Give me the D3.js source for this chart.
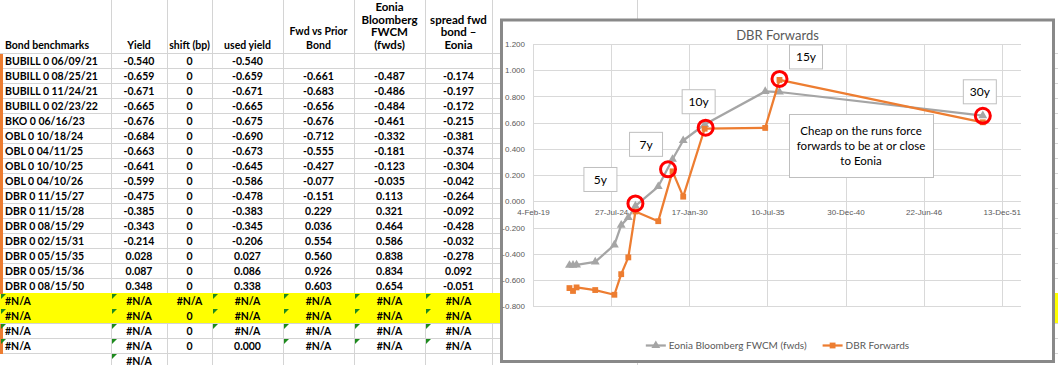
<!DOCTYPE html>
<html>
<head>
<meta charset="utf-8">
<script src="https://cdn.jsdelivr.net/npm/d3@7"></script>
<style>
    body { margin: 0; background: #fff; }
    svg { display: block; font-family: Lato, "Open Sans", sans-serif; }
</style>
</head>
<body>
<div id="mainDiv"></div>
<script>
// ---- dados da planilha ----
const headers = [
    ["Bond benchmarks"], ["Yield"], ["shift (bp)"], ["used yield"],
    ["Fwd vs Prior", "Bond"], ["Eonia", "Bloomberg", "FWCM", "(fwds)"], ["spread fwd", "bond \u2013", "Eonia"]
];
const bonds = [
    "BUBILL 0 06/09/21", "BUBILL 0 08/25/21", "BUBILL 0 11/24/21", "BUBILL 0 02/23/22",
    "BKO 0 06/16/23", "OBL 0 10/18/24", "OBL 0 04/11/25", "OBL 0 10/10/25", "OBL 0 04/10/26",
    "DBR 0 11/15/27", "DBR 0 11/15/28", "DBR 0 08/15/29", "DBR 0 02/15/31",
    "DBR 0 05/15/35", "DBR 0 05/15/36", "DBR 0 08/15/50"
];
const yields = [-0.540, -0.659, -0.671, -0.665, -0.676, -0.684, -0.663, -0.641, -0.599,
    -0.475, -0.385, -0.343, -0.214, 0.028, 0.087, 0.348];
const shiftsBp = [0, 0, 0, 0, 0, 0, 0, 0, 0, 0, 0, 0, 0, 0, 0, 0];
const usedYields = [-0.540, -0.659, -0.671, -0.665, -0.675, -0.690, -0.673, -0.645, -0.586,
    -0.478, -0.383, -0.345, -0.206, 0.027, 0.086, 0.338];
const fwdVsPrior = [null, -0.661, -0.683, -0.656, -0.676, -0.712, -0.555, -0.427, -0.077,
    -0.151, 0.229, 0.036, 0.554, 0.560, 0.926, 0.603];
const eoniaFwds = [null, -0.487, -0.486, -0.484, -0.461, -0.332, -0.181, -0.123, -0.035,
    0.113, 0.321, 0.464, 0.586, 0.838, 0.834, 0.654];
const spreadFwdEonia = [null, -0.174, -0.197, -0.172, -0.215, -0.381, -0.374, -0.304, -0.042,
    -0.264, -0.092, -0.428, -0.032, -0.278, 0.092, -0.051];
const naRows = [
    ["#N/A", "#N/A", "#N/A", "#N/A", "#N/A", "#N/A", "#N/A"],
    ["#N/A", "#N/A", "0", "#N/A", "#N/A", "#N/A", "#N/A"],
    ["#N/A", "#N/A", "0", "#N/A", "#N/A", "#N/A", "#N/A"],
    ["#N/A", "#N/A", "0", "0.000", "#N/A", "#N/A", "#N/A"],
    ["", "#N/A", "", "", "", "", ""]
];

// ---- dados do grafico ----
const chartTitle = "DBR Forwards";
const seriesNames = ["Eonia Bloomberg FWCM (fwds)", "DBR Forwards"];
const xAxisStart = "2019-02-04";
const xAxisMajorDays = 2000;
const xAxisSpanDays = 12500;
const yTickValues = [-0.8, -0.6, -0.4, -0.2, 0, 0.2, 0.4, 0.6, 0.8, 1.0, 1.2];
const tenorLabels = ["5y", "7y", "10y", "15y", "30y"];
const tenorBondIndex = [8, 10, 12, 14, 15];
const noteLines = ["Cheap on the runs force", "forwards to be at or close", "to Eonia"];

var myApp = {};

myApp.width = 1058;
myApp.height = 365;
myApp.sheet = {top: 53.3, rowH: 15, cols: [0, 111, 167, 212, 283, 354, 425, 492, 637]};
myApp.chart = {left: 501.5, top: 20, right: 1053.5, bottom: 361.5};
myApp.plot = {left: 533, right: 1021.3, top: 44, bottom: 306.3};
myApp.xScale = undefined;
myApp.yScale = undefined;

// formato do Excel usa hifen, nao o sinal de menos do d3
myApp.fmt = d3.formatLocale({decimal: ".", thousands: ",", grouping: [3], currency: ["$", ""], minus: "-"}).format(".3f");

myApp.appendSvg = function (div) {
    return d3.select(div).append('svg')
        .attr('width', myApp.width)
        .attr('height', myApp.height);
}

myApp.buildRows = function () {
    let f = function (v) { return v === null ? "" : myApp.fmt(v); };
    let rows = bonds.map(function (b, i) {
        return [b, f(yields[i]), String(shiftsBp[i]), f(usedYields[i]), f(fwdVsPrior[i]), f(eoniaFwds[i]), f(spreadFwdEonia[i])];
    });
    return rows.concat(naRows);
}

myApp.drawSheet = function (svg) {
    let s = myApp.sheet;
    let cols = s.cols;
    let rows = myApp.buildRows();
    let rowY = function (i) { return Math.round(s.top + i * s.rowH); };

    //linhas de grade
    let grid = svg.append('g').attr('class', 'sheet-grid')
        .attr('stroke', '#d4d4d4').attr('stroke-width', 1);
    grid.selectAll('.v').data(cols.slice(1)).enter().append('line').attr('class', 'v')
        .attr('x1', d => d + 0.5).attr('x2', d => d + 0.5)
        .attr('y1', 0).attr('y2', myApp.height);
    grid.selectAll('.h').data(d3.range(rows.length + 1)).enter().append('line').attr('class', 'h')
        .attr('x1', 0).attr('x2', myApp.width)
        .attr('y1', d => rowY(d) + 0.5).attr('y2', d => rowY(d) + 0.5);

    // linhas amarelas
    svg.append('g').selectAll('rect').data([16, 17]).enter().append('rect')
        .attr('x', 0).attr('y', d => rowY(d))
        .attr('width', myApp.width).attr('height', s.rowH)
        .attr('fill', '#ffff00');

    // marca laranja na esquerda
    let marked = d3.range(0, 16).concat([18, 19]);
    svg.append('g').selectAll('rect').data(marked).enter().append('rect')
        .attr('x', 0).attr('y', d => rowY(d) + 1)
        .attr('width', 3).attr('height', s.rowH)
        .attr('fill', '#ed7d31');

    // cabecalho
    let head = svg.append('g').attr('class', 'header').attr('font-weight', 'bold').attr('fill', '#000');
    headers.forEach(function (lines, j) {
        let big = j >= 5;
        let lh = big ? 12.5 : 14;
        let cx = j === 0 ? cols[0] + 5 : (cols[j] + cols[j + 1]) / 2;
        head.selectAll(null).data(lines).enter().append('text')
            .attr('x', cx)
            .attr('y', (d, k) => 48.8 - (lines.length - 1 - k) * lh)
            .attr('text-anchor', j === 0 ? 'start' : 'middle')
            .attr('font-size', big ? 11.5 : 10.5)
            .text(d => d);
    });

    // celulas
    let body = svg.append('g').attr('class', 'cells').attr('font-weight', 'bold')
        .attr('font-size', 10.5).attr('fill', '#000');
    rows.forEach(function (r, i) {
        let y = rowY(i);
        r.forEach(function (v, j) {
            if (v === "") return;
            body.append('text')
                .attr('x', j === 0 ? cols[0] + 5 : (cols[j] + cols[j + 1]) / 2)
                .attr('y', y + 11.5)
                .attr('text-anchor', j === 0 ? 'start' : 'middle')
                .text(v);
            // triangulo verde de erro
            if (i >= 16 && v === "#N/A" && j !== 2) {
                body.append('path')
                    .attr('d', 'M' + (cols[j] + 1) + ',' + (y + 1) + 'h5l-5,5z')
                    .attr('fill', '#1e8a1e');
            }
        });
    });
}

myApp.drawChart = function (svg) {
    let c = myApp.chart, p = myApp.plot;
    let g = svg.append('g').attr('class', 'chart');

    g.append('rect')
        .attr('x', c.left).attr('y', c.top)
        .attr('width', c.right - c.left).attr('height', c.bottom - c.top)
        .attr('fill', '#fff').attr('stroke', '#898989').attr('stroke-width', 3);

    g.append('text')
        .attr('x', (c.left + c.right) / 2).attr('y', 40)
        .attr('text-anchor', 'middle').attr('font-size', 13).attr('fill', '#595959')
        .text(chartTitle);

    let parse = d3.utcParse('%Y-%m-%d');
    let start = parse(xAxisStart);
    myApp.xScale = d3.scaleUtc()
        .domain([start, d3.utcDay.offset(start, xAxisSpanDays)])
        .range([p.left, p.right]);
    myApp.yScale = d3.scaleLinear()
        .domain([yTickValues[0], yTickValues[yTickValues.length - 1]])
        .range([p.bottom, p.top]);
    let xTicks = d3.range(0, xAxisSpanDays, xAxisMajorDays).map(d => d3.utcDay.offset(start, d));

    // grade horizontal + rotulos y
    let yAxisGroup = g.append('g').attr('class', 'yAxis')
        .attr('transform', 'translate(' + p.left + ',0)')
        .call(d3.axisLeft(myApp.yScale).tickValues(yTickValues)
            .tickFormat(myApp.fmt).tickSize(-(p.right - p.left)).tickPadding(8));
    // grade vertical
    let xGridGroup = g.append('g').attr('class', 'xGrid')
        .attr('transform', 'translate(0,' + p.bottom + ')')
        .call(d3.axisBottom(myApp.xScale).tickValues(xTicks).tickFormat('').tickSize(-(p.bottom - p.top)));
    // rotulos x sobre o zero
    let xAxisGroup = g.append('g').attr('class', 'xAxis')
        .attr('transform', 'translate(0,' + myApp.yScale(0) + ')')
        .call(d3.axisBottom(myApp.xScale).tickValues(xTicks)
            .tickFormat(d3.utcFormat('%-d-%b-%y')).tickSize(0).tickPadding(8));

    [yAxisGroup, xGridGroup, xAxisGroup].forEach(function (a) {
        a.select('.domain').remove();
        a.selectAll('line').attr('stroke', '#d9d9d9').attr('shape-rendering', 'crispEdges');
        a.selectAll('text').attr('fill', '#595959').attr('font-size', 8).attr('font-family', null);
    });

    // series
    let maturity = bonds.map(b => d3.utcParse('%m/%d/%y')(b.split(' ').pop()));
    let series = [
        {name: seriesNames[0], values: eoniaFwds, color: '#a5a5a5', symbol: d3.symbolTriangle, size: 34},
        {name: seriesNames[1], values: fwdVsPrior, color: '#ed7d31', symbol: d3.symbolSquare, size: 34}
    ];
    series.forEach(function (s) {
        let pts = s.values.map((v, i) => ({date: maturity[i], v: v})).filter(d => d.v !== null);
        let line = d3.line()
            .x(d => myApp.xScale(d.date))
            .y(d => myApp.yScale(d.v));
        g.append('path').datum(pts)
            .attr('d', line)
            .attr('fill', 'none').attr('stroke', s.color).attr('stroke-width', 2.25)
            .attr('stroke-linejoin', 'round');
        g.append('g').selectAll('path').data(pts).enter().append('path')
            .attr('d', d3.symbol().type(s.symbol).size(s.size))
            .attr('transform', d => 'translate(' + myApp.xScale(d.date) + ',' + myApp.yScale(d.v) + ')')
            .attr('fill', s.color);
    });

    // circulos vermelhos e caixas dos prazos
    let callout = [
        {cx: 0, cy: -8, bx: -35, by: -24},
        {cx: -4.5, cy: -2, bx: -22, by: -25},
        {cx: 1, cy: -1, bx: -7, by: -26},
        {cx: 0, cy: -1, bx: 26.5, by: -22},
        {cx: 0, cy: -6.5, bx: -3, by: -24}
    ];
    tenorLabels.forEach(function (lab, k) {
        let i = tenorBondIndex[k];
        let o = callout[k];
        let x = myApp.xScale(maturity[i]) + o.cx;
        let y = myApp.yScale(fwdVsPrior[i]) + o.cy;
        g.append('circle')
            .attr('cx', x).attr('cy', y).attr('r', 7.5)
            .attr('fill', 'none').attr('stroke', '#ff0000').attr('stroke-width', 3);
        g.append('rect')
            .attr('x', x + o.bx - 16.5).attr('y', y + o.by - 12)
            .attr('width', 33).attr('height', 24)
            .attr('fill', '#fff').attr('stroke', '#bfbfbf');
        g.append('text')
            .attr('x', x + o.bx).attr('y', y + o.by + 4.5)
            .attr('text-anchor', 'middle').attr('font-size', 12).attr('fill', '#000')
            .text(lab);
    });

    // caixa de nota
    let nx = p.left + 256, ny = 114;
    g.append('rect')
        .attr('x', nx + 0.5).attr('y', ny + 0.5).attr('width', 144).attr('height', 63)
        .attr('fill', '#fff').attr('stroke', '#bfbfbf');
    g.append('g').selectAll('text').data(noteLines).enter().append('text')
        .attr('x', nx + 72).attr('y', (d, i) => ny + 21 + i * 15)
        .attr('text-anchor', 'middle').attr('font-size', 11.5).attr('fill', '#000')
        .text(d => d);

    // legenda
    let legend = g.append('g').attr('class', 'legend');
    let lx = 0;
    series.forEach(function (s) {
        let it = legend.append('g').attr('transform', 'translate(' + lx + ',0)');
        it.append('line').attr('x1', 0).attr('x2', 20).attr('y1', 0).attr('y2', 0)
            .attr('stroke', s.color).attr('stroke-width', 2.25);
        it.append('path').attr('d', d3.symbol().type(s.symbol).size(s.size))
            .attr('transform', 'translate(10,0)').attr('fill', s.color);
        let t = it.append('text').attr('x', 23).attr('y', 3.5)
            .attr('font-size', 10).attr('fill', '#595959').text(s.name);
        lx += 23 + t.node().getComputedTextLength() + 16;
    });
    let total = lx - 16;
    legend.attr('transform', 'translate(' + ((c.left + c.right) / 2 - total / 2) + ',345.5)');
}

myApp.run = function () {
    let svg = myApp.appendSvg('#mainDiv');
    myApp.drawSheet(svg);
    myApp.drawChart(svg);
}

window.onload = myApp.run;
</script>
</body>
</html>
